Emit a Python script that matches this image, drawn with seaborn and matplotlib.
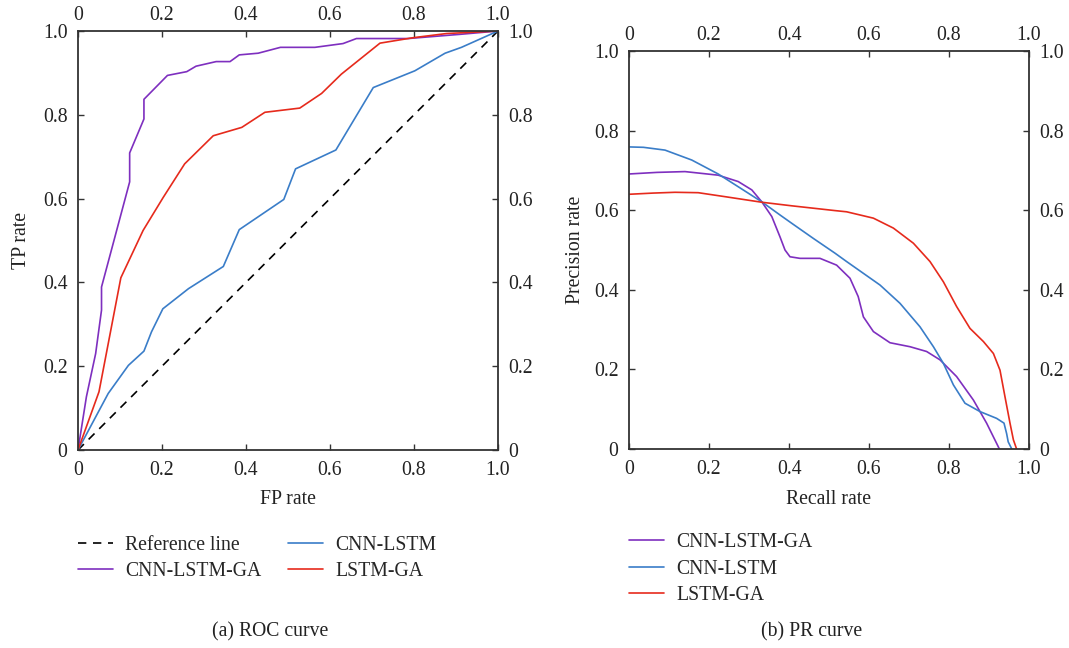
import pandas as pd
import matplotlib
matplotlib.use("Agg")
import matplotlib.pyplot as plt
import matplotlib.transforms as mtransforms
import seaborn as sns

# ---------------- data ----------------
ref_x = [0.0, 1.0]
ref_y = [0.0, 1.0]

roc_ga_x = [0, 0.02, 0.042, 0.056, 0.056, 0.123, 0.123, 0.157, 0.157, 0.213, 0.259, 0.281,
            0.329, 0.362, 0.384, 0.429, 0.482, 0.564, 0.631, 0.663, 0.786, 0.909, 1.0]
roc_ga_y = [0, 0.127, 0.23, 0.334, 0.389, 0.64, 0.709, 0.79, 0.837, 0.894, 0.903, 0.916,
            0.927, 0.927, 0.943, 0.947, 0.961, 0.961, 0.970, 0.982, 0.982, 0.992, 1.0]

roc_cnn_x = [0, 0.072, 0.12, 0.157, 0.175, 0.202, 0.263, 0.346, 0.384, 0.49, 0.518, 0.614,
             0.703, 0.802, 0.874, 0.913, 1.0]
roc_cnn_y = [0, 0.135, 0.202, 0.236, 0.282, 0.337, 0.385, 0.438, 0.526, 0.598, 0.671, 0.716,
             0.865, 0.905, 0.947, 0.961, 1.0]

roc_lstm_x = [0, 0.05, 0.102, 0.155, 0.203, 0.254, 0.322, 0.39, 0.445, 0.528, 0.58, 0.627,
              0.719, 0.798, 0.878, 1.0]
roc_lstm_y = [0, 0.139, 0.411, 0.524, 0.603, 0.683, 0.75, 0.77, 0.806, 0.816, 0.851, 0.897,
              0.971, 0.984, 0.994, 1.0]

pr_ga_x = [0, 0.07, 0.14, 0.223, 0.273, 0.307, 0.332, 0.357, 0.3775, 0.39, 0.4025, 0.4275,
           0.4775, 0.519, 0.5525, 0.573, 0.586, 0.611, 0.6525, 0.7025, 0.744, 0.7775, 0.819,
           0.861, 0.894, 0.926]
pr_ga_y = [0.691, 0.695, 0.697, 0.688, 0.672, 0.651, 0.621, 0.584, 0.533, 0.5, 0.483, 0.479,
           0.479, 0.462, 0.429, 0.383, 0.332, 0.295, 0.267, 0.257, 0.245, 0.224, 0.182,
           0.123, 0.065, 0.0]

pr_cnn_x = [0, 0.036, 0.09, 0.157, 0.223, 0.273, 0.332, 0.3775, 0.407, 0.461, 0.515, 0.544,
            0.6275, 0.6775, 0.7275, 0.761, 0.786, 0.811, 0.84, 0.8775, 0.919, 0.9375, 0.944,
            0.948, 0.957]
pr_cnn_y = [0.759, 0.758, 0.751, 0.726, 0.691, 0.659, 0.621, 0.588, 0.567, 0.529, 0.492, 0.471,
            0.412, 0.366, 0.307, 0.257, 0.215, 0.161, 0.115, 0.094, 0.077, 0.065, 0.039,
            0.018, 0.0]

pr_lstm_x = [0, 0.06, 0.115, 0.173, 0.24, 0.332, 0.407, 0.461, 0.515, 0.544, 0.611, 0.661,
             0.711, 0.7525, 0.786, 0.819, 0.8525, 0.886, 0.911, 0.9275, 0.94, 0.9525, 0.961,
             0.969]
pr_lstm_y = [0.640, 0.643, 0.645, 0.644, 0.634, 0.62, 0.611, 0.605, 0.599, 0.596, 0.58, 0.555,
             0.517, 0.471, 0.42, 0.358, 0.303, 0.27, 0.24, 0.198, 0.131, 0.065, 0.023, 0.0]

ticks = [0, 0.2, 0.4, 0.6, 0.8, 1.0]
tick_labels = ["0", "0.2", "0.4", "0.6", "0.8", "1.0"]

C_PURPLE = "#7E2FBF"
C_BLUE = "#3A7DC8"
C_RED = "#E62A1C"
TXT = "#222222"

# ---------------- style ----------------
sns.set_theme(style="ticks")
plt.rcParams["font.family"] = ["Liberation Serif", "DejaVu Serif"]
FS = 14.2
plt.rcParams["font.size"] = FS

fig = plt.figure(figsize=(10.69, 6.48), dpi=100)
ax1 = fig.add_axes([78 / 1069, 1 - 450 / 648, 420 / 1069, 419 / 648])
ax2 = fig.add_axes([629 / 1069, 1 - 449 / 648, 400 / 1069, 398 / 648])


def line(ax, xs, ys, color, label, ls="-"):
    df = pd.DataFrame({"x": xs, "y": ys})
    sns.lineplot(data=df, x="x", y="y", ax=ax, sort=False, estimator=None,
                 color=color, lw=1.2, linestyle=ls, label=label)


line(ax1, ref_x, ref_y, "black", "Reference line", ls=(0, (5, 4)))
line(ax1, roc_ga_x, roc_ga_y, C_PURPLE, "CNN-LSTM-GA")
line(ax1, roc_cnn_x, roc_cnn_y, C_BLUE, "CNN-LSTM")
line(ax1, roc_lstm_x, roc_lstm_y, C_RED, "LSTM-GA")

line(ax2, pr_ga_x, pr_ga_y, C_PURPLE, "CNN-LSTM-GA")
line(ax2, pr_cnn_x, pr_cnn_y, C_BLUE, "CNN-LSTM")
line(ax2, pr_lstm_x, pr_lstm_y, C_RED, "LSTM-GA")

shift_down = mtransforms.ScaledTranslation(0, -4 / 72, fig.dpi_scale_trans)
for ax in (ax1, ax2):
    ax.set_xlim(0, 1)
    ax.set_ylim(0, 1)
    ax.set_xticks(ticks)
    ax.set_yticks(ticks)
    ax.set_xticklabels(tick_labels)
    ax.set_yticklabels(tick_labels)
    ax.tick_params(direction="in", top=True, right=True, labeltop=True, labelright=True,
                   labelsize=FS, length=4, width=1, color="#333333", labelcolor=TXT)
    ax.tick_params(axis="y", pad=7.5)
    ax.tick_params(axis="x", pad=8)
    # top tick labels sit a bit closer to the spine than the bottom ones
    for t in ax.xaxis.get_major_ticks():
        t.label2.set_transform(t.label2.get_transform() + shift_down)
    for s in ax.spines.values():
        s.set_color("#333333")
        s.set_linewidth(1.3)

ax1.set_xlabel("FP rate", fontsize=FS, color=TXT, va="center", ha="center")
ax1.set_ylabel("TP rate", fontsize=FS, color=TXT, va="center", ha="center")
ax2.set_xlabel("Recall rate", fontsize=FS, color=TXT, va="center", ha="center")
ax2.set_ylabel("Precision rate", fontsize=FS, color=TXT, va="center", ha="center")
ax1.xaxis.set_label_coords(0.5, (450 - 499) / 419)
ax1.yaxis.set_label_coords((21 - 78) / 420, 0.5)
ax2.xaxis.set_label_coords(0.5, (449 - 499) / 398)
ax2.yaxis.set_label_coords((576 - 629) / 400, 0.5)

# legends
ax1.legend(ncol=2, frameon=False,
           loc="upper left", bbox_to_anchor=(0.0, -0.205), fontsize=FS,
           handlelength=1.75, handletextpad=0.65, columnspacing=1.35, labelspacing=0.38,
           borderaxespad=0, borderpad=0)
ax2.legend(frameon=False, loc="upper left", bbox_to_anchor=(0.0, -0.212), fontsize=FS,
           handlelength=1.75, handletextpad=0.65, labelspacing=0.38,
           borderaxespad=0, borderpad=0)

fig.text(270 / 1069, 1 - 632 / 648, "(a) ROC curve", ha="center", va="center", fontsize=FS,
         color=TXT)
fig.text(812 / 1069, 1 - 632 / 648, "(b) PR curve", ha="center", va="center", fontsize=FS,
         color=TXT)

fig.savefig("out.png", dpi=100)
